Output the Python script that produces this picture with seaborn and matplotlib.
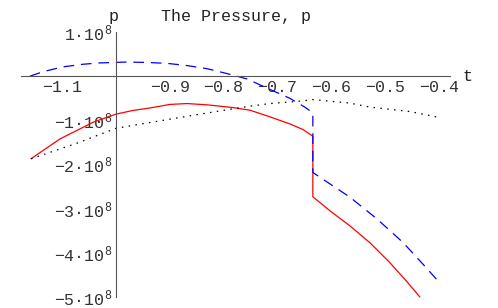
import numpy as np
import pandas as pd
import matplotlib
matplotlib.use("Agg")
import matplotlib.pyplot as plt
import matplotlib.ticker as ticker
import seaborn as sns

# pressure values are in units of 1e8
t_red = [-1.158, -1.104, -1.073, -1.042, -1.0, -0.970, -0.937, -0.900, -0.868,
         -0.830, -0.783, -0.751, -0.714, -0.677, -0.652, -0.634,
         -0.634, -0.602, -0.565, -0.528, -0.491, -0.460, -0.435]
p_red = [-1.87, -1.42, -1.23, -1.04, -0.86, -0.78, -0.72, -0.64, -0.62,
         -0.65, -0.71, -0.77, -0.92, -1.08, -1.21, -1.36,
         -2.73, -3.05, -3.39, -3.77, -4.22, -4.64, -5.00]

t_blue = [-1.160, -1.136, -1.099, -1.061, -1.030, -0.980, -0.942, -0.905, -0.868,
          -0.831, -0.794, -0.757, -0.710, -0.677, -0.649, -0.634,
          -0.634, -0.612, -0.565, -0.515, -0.466, -0.426, -0.401]
p_blue = [0.0, 0.10, 0.21, 0.27, 0.30, 0.32, 0.31, 0.29, 0.24,
          0.17, 0.06, -0.06, -0.32, -0.50, -0.70, -0.83,
          -2.18, -2.36, -2.74, -3.23, -3.77, -4.30, -4.64]

t_black = [-1.158, -1.073, -1.0, -0.937, -0.844, -0.783, -0.751, -0.714, -0.652,
           -0.634, -0.565, -0.528, -0.454, -0.401]
p_black = [-1.87, -1.52, -1.18, -1.05, -0.86, -0.74, -0.68, -0.62, -0.56,
           -0.53, -0.61, -0.70, -0.80, -0.93]

x_ticks = [-1.1, -0.9, -0.8, -0.7, -0.6, -0.5, -0.4]
y_ticks = [1, -1, -2, -3, -4, -5]

frames = []
for name, t, p in [("red", t_red, p_red), ("blue", t_blue, p_blue), ("black", t_black, p_black)]:
    frames.append(pd.DataFrame({"t": t, "p": np.array(p) * 1e8, "curve": name, "idx": range(len(t))}))
df = pd.concat(frames, ignore_index=True)

sns.set_style("white")
plt.rcParams["font.family"] = ["Liberation Mono", "DejaVu Sans Mono"]
plt.rcParams["mathtext.fontset"] = "custom"
plt.rcParams["mathtext.rm"] = "Liberation Mono"
plt.rcParams["mathtext.it"] = "Liberation Mono"
plt.rcParams["mathtext.default"] = "rm"

fig = plt.figure(figsize=(4.98, 3.08), dpi=100)
ax = fig.add_axes([21 / 498, 1 - 297 / 308, 429 / 498, 265 / 308])

sns.lineplot(
    data=df, x="t", y="p", hue="curve", style="curve",
    hue_order=["red", "blue", "black"],
    palette={"red": "#ff0000", "blue": "#0000ff", "black": "#000000"},
    dashes={"red": "", "blue": (8.5, 5.5), "black": (1.2, 4.3)},
    estimator=None, sort=False, units="curve", linewidth=0.9,
    legend=False, ax=ax,
)
for line in ax.lines:
    line.set_clip_on(False)

ax.set_xlim(-1.1766, -0.379)
ax.set_ylim(-5e8, 1e8)

axis_col = "#555555"
for s in ["top", "right"]:
    ax.spines[s].set_visible(False)
ax.spines["left"].set_position(("data", -1.0))
ax.spines["bottom"].set_position(("data", 0))
for s in ["left", "bottom"]:
    ax.spines[s].set_color(axis_col)
    ax.spines[s].set_linewidth(0.8)

ax.xaxis.set_major_locator(ticker.FixedLocator(x_ticks))
ax.xaxis.set_minor_locator(ticker.MultipleLocator(0.02))
ax.set_xticklabels(["\u2212" + f"{abs(v):.1f}" for v in x_ticks])
ax.yaxis.set_major_locator(ticker.FixedLocator([v * 1e8 for v in y_ticks]))
ax.yaxis.set_minor_locator(ticker.MultipleLocator(0.2e8))
ax.set_yticklabels([("\u2212" if v < 0 else "") + f"{abs(v)}\u00b710$^{{8}}$" for v in y_ticks])

ax.tick_params(which="both", direction="in", color=axis_col, width=0.7,
               labelsize=12, labelcolor="#333333")
ax.tick_params(which="major", length=3.0)
ax.tick_params(which="minor", length=1.6)
ax.tick_params(axis="x", pad=2.5)
ax.tick_params(axis="y", pad=3)
ax.set_xlabel("")
ax.set_ylabel("")

fig.text(235.5 / 498, 1 - 20.5 / 308, "The Pressure, p", ha="center", va="baseline",
         fontsize=12, color="#222222")
fig.text(113.5 / 498, 1 - 20.5 / 308, "p", ha="center", va="baseline",
         fontsize=12, color="#222222")
fig.text(467 / 498, 1 - 81 / 308, "t", ha="center", va="baseline",
         fontsize=12, color="#222222")

fig.savefig("out.png", dpi=100)
